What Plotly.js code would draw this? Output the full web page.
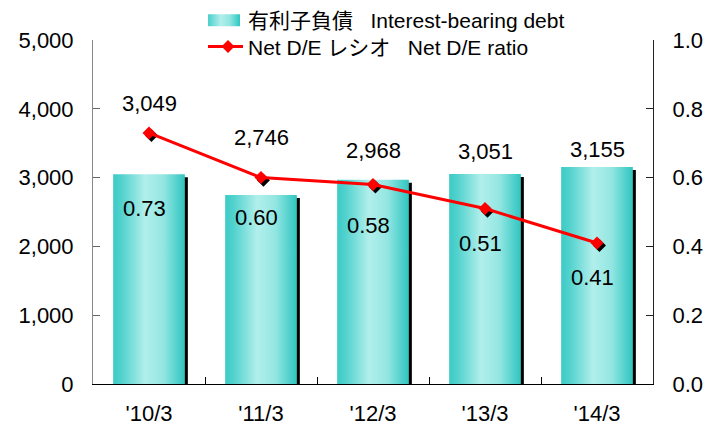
<!DOCTYPE html>
<html>
<head>
<meta charset="utf-8">
<script src="https://cdn.plot.ly/plotly-3.0.1.min.js"></script>
<style>html,body{margin:0;padding:0;background:#fff;}#chart{width:708px;height:428px;}</style>
</head>
<body>
<div id="chart"></div>
<script>
// ---- data ----
var categories = ["'10/3", "'11/3", "'12/3", "'13/3", "'14/3"];
var debt = [3049, 2746, 2968, 3051, 3155];
var ratio = [0.73, 0.60, 0.58, 0.51, 0.41];
var debtLabels = ["3,049", "2,746", "2,968", "3,051", "3,155"];
var ratioLabels = ["0.73", "0.60", "0.58", "0.51", "0.41"];

// label offsets in pixels (layout only)
var debtLabelShift = [71, 58, 29, 23, 17];
var ratioLabelShift = [-76, -40, -41, -35, -35];

var FONT = "'Liberation Sans', Arial, 'Noto Sans CJK JP', sans-serif";
var idx = categories.map(function(_, i){ return i; });

var barW = 0.64;
var shadowDx = 0.027;   // ~3px
var shadowDy = -44;     // ~3px

var traces = [
  { // bar shadow
    type: 'bar', x: categories, y: debt, base: debt.map(function(){return shadowDy;}),
    width: barW, offset: -barW/2 + shadowDx,
    marker: {color: '#000000', line: {width: 0}},
    showlegend: false, hoverinfo: 'skip'
  },
  { // main bars
    type: 'bar', x: categories, y: debt, name: '有利子負債\u00a0\u00a0\u00a0Interest-bearing debt',
    width: barW, offset: -barW/2,
    marker: {color: '#3fcdc9', line: {width: 0}}
  },
  { // marker shadows
    type: 'scatter', mode: 'markers', x: idx.map(function(i){return i + 0.022;}),
    y: ratio.map(function(r){return r - 0.0075;}),
    xaxis: 'x2', yaxis: 'y2',
    marker: {symbol: 'diamond', size: 10, color: '#000000'},
    showlegend: false, hoverinfo: 'skip'
  },
  { // ratio line
    type: 'scatter', mode: 'lines+markers', x: idx, y: ratio, xaxis: 'x2', yaxis: 'y2',
    name: 'Net D/E レシオ\u00a0\u00a0\u00a0Net D/E ratio',
    line: {color: '#ff0000', width: 3},
    marker: {symbol: 'diamond', size: 10, color: '#ff0000'}
  }
];

var annotations = [];
categories.forEach(function(c, i){
  annotations.push({
    x: c, y: debt[i], xref: 'x', yref: 'y', text: debtLabels[i], showarrow: false,
    yshift: debtLabelShift[i], font: {family: FONT, size: 22, color: '#000'}
  });
  annotations.push({
    x: i, y: ratio[i], xref: 'x2', yref: 'y2', text: ratioLabels[i], showarrow: false,
    xshift: -5, yshift: ratioLabelShift[i], font: {family: FONT, size: 22, color: '#000'}
  });
});

var layout = {
  width: 708, height: 428,
  margin: {l: 93, r: 55, t: 40, b: 44, autoexpand: false},
  paper_bgcolor: '#ffffff', plot_bgcolor: '#ffffff',
  barmode: 'overlay',
  font: {family: FONT, size: 22, color: '#000'},
  showlegend: true,
  legend: {
    xref: 'container', yref: 'container',
    x: 208/708, xanchor: 'left', y: 1, yanchor: 'top',
    bgcolor: 'rgba(0,0,0,0)', font: {family: FONT, size: 21, color: '#000'},
    tracegroupgap: 0, itemwidth: 30
  },
  xaxis: {
    type: 'category', range: [-0.5, 4.5], showgrid: false, zeroline: false,
    showline: true, linecolor: '#000', linewidth: 1,
    ticks: 'inside', tickson: 'boundaries', ticklen: 7, tickcolor: '#000',
    ticklabelstandoff: 10, tickfont: {family: FONT, size: 22}
  },
  xaxis2: {
    overlaying: 'x', range: [-0.5, 4.5], visible: false, showgrid: false, zeroline: false
  },
  yaxis: {
    range: [0, 5000], dtick: 1000, tickformat: ',', showgrid: false, zeroline: false,
    showline: true, linecolor: '#888', linewidth: 1,
    ticks: 'inside', ticklen: 7, tickcolor: '#666',
    ticklabelstandoff: 14, tickfont: {family: FONT, size: 22}
  },
  yaxis2: {
    overlaying: 'y', side: 'right', range: [0, 1], dtick: 0.2, tickformat: '.1f',
    showgrid: false, zeroline: false,
    showline: true, linecolor: '#222', linewidth: 1,
    ticks: 'inside', ticklen: 7, tickcolor: '#222',
    ticklabelstandoff: 14, tickfont: {family: FONT, size: 22}
  },
  annotations: annotations
};

Plotly.newPlot('chart', traces, layout, {displayModeBar: false, staticPlot: true}).then(function(gd){
  var svgNS = 'http://www.w3.org/2000/svg';
  var svg = gd.querySelector('.main-svg');
  var defs = svg.querySelector('defs');
  var grad = document.createElementNS(svgNS, 'linearGradient');
  grad.setAttribute('id', 'barGrad');
  grad.setAttribute('x1', '0'); grad.setAttribute('x2', '1');
  grad.setAttribute('y1', '0'); grad.setAttribute('y2', '0');
  [['0', '#3ccac6'], ['0.12', '#52d2ce'], ['0.45', '#b2efeb'], ['0.7', '#93e6e2'], ['1', '#2fc6c1']].forEach(function(s){
    var st = document.createElementNS(svgNS, 'stop');
    st.setAttribute('offset', s[0]); st.setAttribute('stop-color', s[1]);
    grad.appendChild(st);
  });
  defs.appendChild(grad);
  var barTraces = gd.querySelectorAll('.barlayer .trace');
  if (barTraces[1]) {
    barTraces[1].querySelectorAll('path').forEach(function(p){ p.style.fill = 'url(#barGrad)'; });
  }
  var legendItems = gd.querySelectorAll('.legend .traces');
  if (legendItems[0]) {
    var p = legendItems[0].querySelector('.legendpoints path');
    if (p) {
      p.setAttribute('d', 'M12,6H-23V-6H12Z');
      p.style.fill = 'url(#barGrad)';
    }
  }
  if (legendItems[1]) {
    var lp = legendItems[1].querySelector('.legendlines path');
    if (lp) { lp.setAttribute('d', 'M-5,0h40'); }
    var tr = legendItems[1].getAttribute('transform') || '';
    var m = tr.match(/translate\(\s*([-\d.]+)[ ,]+([-\d.]+)\s*\)/);
    if (m) {
      legendItems[1].setAttribute('transform', 'translate(' + m[1] + ',' + (parseFloat(m[2]) - 4) + ')');
    }
  }
});
</script>
</body>
</html>
